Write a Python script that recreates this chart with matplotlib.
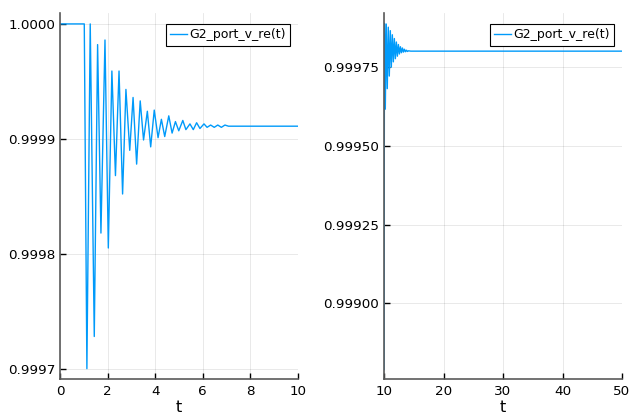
import matplotlib
matplotlib.use("Agg")
import matplotlib.pyplot as plt
from matplotlib.ticker import FormatStrFormatter

# left panel: t in [0, 10], extrema
t_left = [0.0, 1.02, 1.13, 1.27, 1.44, 1.58, 1.72, 1.89, 2.03, 2.18, 2.33,
          2.48, 2.63, 2.77, 2.93, 3.07, 3.22, 3.37, 3.51, 3.67, 3.81, 3.96,
          4.12, 4.26, 4.40, 4.57, 4.71, 4.85, 4.99, 5.16, 5.29, 5.46, 5.60,
          5.74, 5.88, 6.05, 6.18, 6.33, 6.48, 6.63, 6.78, 6.93, 7.08, 7.50, 10.0]
v_left = [1.0, 1.0, 0.99970, 1.0, 0.999728, 0.999982, 0.999818, 0.999986,
          0.999805, 0.999959, 0.999868, 0.999959, 0.999852, 0.999943, 0.999890,
          0.999936, 0.999878, 0.999933, 0.999899, 0.999924, 0.999893, 0.999925,
          0.999901, 0.999917, 0.999902, 0.999920, 0.999905, 0.999915, 0.999907,
          0.999916, 0.999908, 0.999913, 0.999908, 0.999914, 0.999909, 0.999913,
          0.999910, 0.999912, 0.999910, 0.999912, 0.999910, 0.999912, 0.999911,
          0.999911, 0.999911]

# right panel: t in [10, 50]
t_right = [10.0, 10.08, 10.22, 10.38, 10.55, 10.72, 10.89, 11.06, 11.23, 11.40,
           11.57, 11.74, 11.91, 12.08, 12.25, 12.42, 12.59, 12.76, 12.93, 13.10,
           13.27, 13.44, 13.61, 13.78, 13.95, 14.12, 14.50, 50.0]
v_right = [0.998790, 0.999888, 0.999616, 0.999886, 0.999681, 0.999876, 0.999721,
           0.999865, 0.999749, 0.999852, 0.999766, 0.999840, 0.999776, 0.999829,
           0.999784, 0.999821, 0.999791, 0.999814, 0.999795, 0.999810, 0.999797,
           0.999806, 0.999798, 0.999803, 0.999799, 0.999801, 0.999800, 0.999800]

label = "G2_port_v_re(t)"
blue = "#009AFA"

plt.rcParams["font.family"] = ["DejaVu Sans"]

fig = plt.figure(figsize=(6.3, 4.17), dpi=100)
W, H = 630, 417
ax1 = fig.add_axes([60 / W, 1 - 379 / H, 238 / W, 366 / H])
ax2 = fig.add_axes([384 / W, 1 - 379 / H, 238 / W, 366 / H])


def style(ax, xlim, ylim, xticks, yticks, fmt):
    ax.set_xlim(*xlim)
    ax.set_ylim(*ylim)
    ax.set_xticks(xticks)
    ax.set_yticks(yticks)
    ax.yaxis.set_major_formatter(FormatStrFormatter(fmt))
    for s in ["top", "right"]:
        ax.spines[s].set_visible(False)
    for s in ["left", "bottom"]:
        ax.spines[s].set_color("#5a5a5a")
        ax.spines[s].set_linewidth(1.2)
    ax.tick_params(direction="in", length=4, width=1, color="black",
                   labelsize=9.7, pad=3.5)
    ax.tick_params(axis="x", pad=4)
    ax.grid(True, color="black", alpha=0.1, linewidth=0.6)
    ax.set_axisbelow(True)
    ax.set_xlabel("t", fontsize=11.5, labelpad=1.5)
    leg = ax.legend(loc="upper right", bbox_to_anchor=(1 - 8 / 238, 1 - 11 / 366),
                    borderaxespad=0, fontsize=9, fancybox=False, framealpha=1,
                    edgecolor="black", handlelength=1.3, handletextpad=0.2,
                    borderpad=0.35)
    leg.get_frame().set_linewidth(0.8)


ax1.plot(t_left, v_left, color=blue, linewidth=1.0, label=label)
style(ax1, (0, 10), (0.999691, 1.0000095), [0, 2, 4, 6, 8, 10],
      [0.9997, 0.9998, 0.9999, 1.0], "%.4f")

ax2.plot(t_right, v_right, color=blue, linewidth=1.0, label=label)
style(ax2, (10, 50), (0.998760, 0.999921), [10, 20, 30, 40, 50],
      [0.999, 0.99925, 0.9995, 0.99975], "%.5f")

fig.savefig("out.png", dpi=100)
